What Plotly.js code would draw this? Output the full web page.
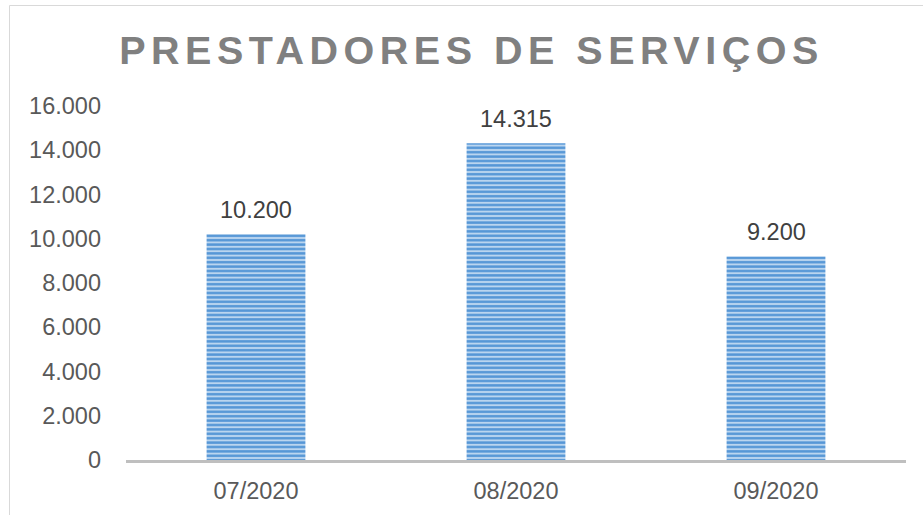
<!DOCTYPE html>
<html>
<head>
<meta charset="utf-8">
<script src="https://cdn.plot.ly/plotly-3.0.1.min.js"></script>
<style>
  html, body { margin: 0; padding: 0; background: #fff; }
  #chart { width: 923px; height: 515px; }
  .gtitle { letter-spacing: 5.5px; }
</style>
</head>
<body>
<div id="chart"></div>
<script>
const categories = ['07/2020', '08/2020', '09/2020'];
const values = [10200, 14315, 9200];
const titleText = 'PRESTADORES DE SERVIÇOS';
const yTickValues = [0, 2000, 4000, 6000, 8000, 10000, 12000, 14000, 16000];

function fmt(v) {
  return String(v).replace(/\B(?=(\d{3})+(?!\d))/g, '.');
}

const W = 923, H = 515, L = 126, R = 17, T = 106, B = 55;
const pw = W - L - R, ph = H - T - B;
function px2x(p) { return (p - L) / pw; }
function py2y(p) { return (H - B - p) / ph; }

const font = 'Liberation Sans, Arial, sans-serif';

const trace = {
  type: 'bar',
  x: categories,
  y: values,
  width: 0.38,
  marker: {
    color: '#bcd6ef',
    line: { width: 0 },
    pattern: {
      shape: '-',
      fgcolor: '#5596d6',
      bgcolor: '#bad5ef',
      size: 4.4,
      solidity: 0.55,
      fillmode: 'replace'
    }
  },
  hoverinfo: 'none'
};

const annotations = categories.map((c, i) => ({
  x: c, y: values[i], xref: 'x', yref: 'y',
  text: fmt(values[i]),
  showarrow: false,
  yanchor: 'bottom',
  yshift: 9,
  font: { family: font, size: 23.5, color: '#404040' }
}));

const layout = {
  width: W, height: H,
  margin: { l: L, r: R, t: T, b: B, pad: 0 },
  paper_bgcolor: '#ffffff',
  plot_bgcolor: '#ffffff',
  separators: ',.',
  showlegend: false,
  title: {
    text: '<b>' + titleText + '</b>',
    font: { family: font, size: 39.5, color: '#808080' },
    xref: 'container', yref: 'container',
    x: 471.5 / W, xanchor: 'center',
    y: 1 - 50.3 / H, yanchor: 'middle'
  },
  xaxis: {
    type: 'category',
    showline: true,
    linecolor: '#bfbfbf',
    linewidth: 3,
    showgrid: false,
    zeroline: false,
    ticks: '',
    ticklabelstandoff: 8,
    tickfont: { family: font, size: 23.5, color: '#595959' }
  },
  yaxis: {
    range: [0, 16000],
    tickvals: yTickValues,
    ticktext: yTickValues.map(fmt),
    showline: false,
    showgrid: false,
    zeroline: false,
    ticks: '',
    ticklabelstandoff: 24,
    tickfont: { family: font, size: 23.5, color: '#595959' }
  },
  annotations: annotations,
  shapes: [
    { type: 'line', xref: 'paper', yref: 'paper',
      x0: px2x(9.5), x1: px2x(9.5), y0: py2y(5.5), y1: py2y(520),
      line: { color: '#d9d9d9', width: 1 } },
    { type: 'line', xref: 'paper', yref: 'paper',
      x0: px2x(9.5), x1: px2x(930), y0: py2y(5.5), y1: py2y(5.5),
      line: { color: '#d9d9d9', width: 1 } }
  ]
};

Plotly.newPlot('chart', [trace], layout, { staticPlot: true, displayModeBar: false });
</script>
</body>
</html>
